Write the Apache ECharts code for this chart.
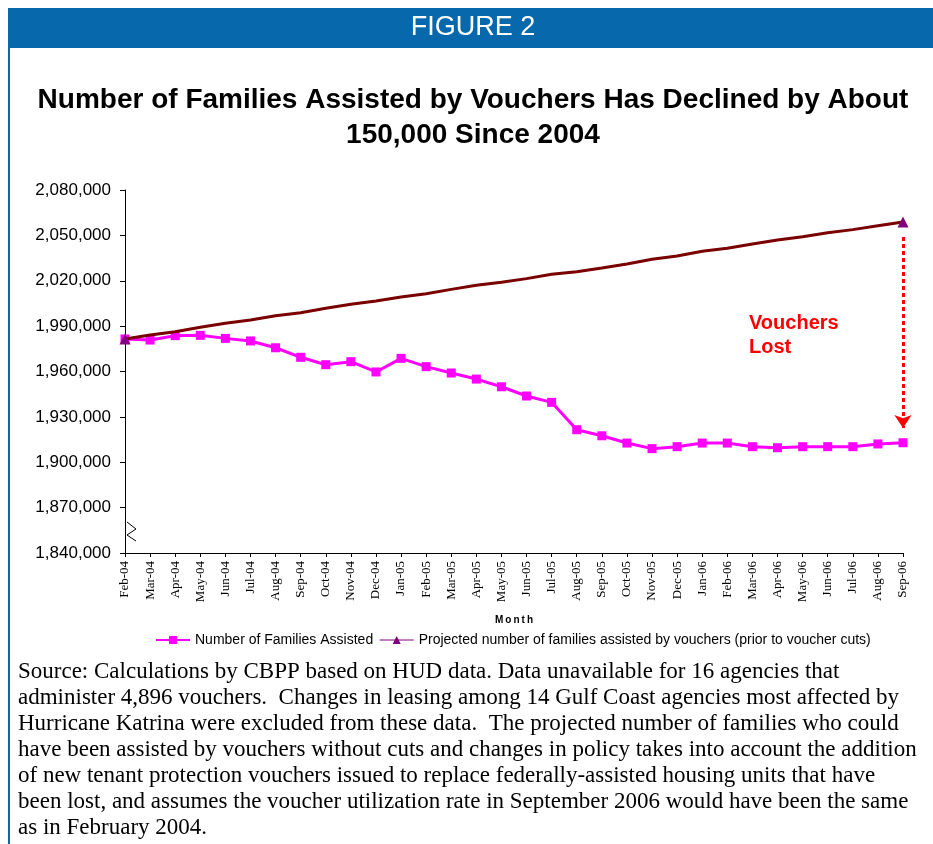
<!DOCTYPE html>
<html>
<head>
<meta charset="utf-8">
<script src="https://cdn.jsdelivr.net/npm/echarts@6/dist/echarts.min.js"></script>
<style>
html,body{margin:0;padding:0;background:#fff;}
#chart{width:933px;height:844px;}
</style>
</head>
<body>
<div id="chart"></div>
<script>
var months = ['Feb-04','Mar-04','Apr-04','May-04','Jun-04','Jul-04','Aug-04','Sep-04','Oct-04','Nov-04','Dec-04',
  'Jan-05','Feb-05','Mar-05','Apr-05','May-05','Jun-05','Jul-05','Aug-05','Sep-05','Oct-05','Nov-05','Dec-05',
  'Jan-06','Feb-06','Mar-06','Apr-06','May-06','Jun-06','Jul-06','Aug-06','Sep-06'];

var familiesAssisted = [1981500,1980800,1983700,1983900,1981900,1980200,1975700,1969400,1964500,1966500,1959700,
  1968700,1963200,1959000,1955000,1949900,1943800,1939600,1921500,1917500,1912700,1909000,1910300,
  1912700,1912700,1910300,1909600,1910300,1910300,1910300,1912100,1912900];

var projectedFamilies = [1981500,1984100,1986300,1989200,1991900,1994000,1996900,1998900,2001800,2004400,2006600,
  2009300,2011400,2014300,2017000,2019000,2021400,2024300,2026000,2028400,2031100,2034200,2036400,
  2039500,2041500,2044300,2046900,2049100,2051800,2053800,2056400,2058800];

var yTicks = {min:1840000, max:2080000, step:30000};
var arrowFrom = 2049000, arrowTo = 1922600;

var seriesNames = ['Number of Families Assisted','Projected number of families assisted by vouchers (prior to voucher cuts)'];

var footerLines = [
 'Source: Calculations by CBPP based on HUD data. Data unavailable for 16 agencies that',
 'administer 4,896 vouchers.  Changes in leasing among 14 Gulf Coast agencies most affected by',
 'Hurricane Katrina were excluded from these data.  The projected number of families who could',
 'have been assisted by vouchers without cuts and changes in policy takes into account the addition',
 'of new tenant protection vouchers issued to replace federally-assisted housing units that have',
 'been lost, and assumes the voucher utilization rate in September 2006 would have been the same',
 'as in February 2004.'
];

function fmt(v){ return String(v).replace(/\B(?=(\d{3})+(?!\d))/g, ','); }

var blue = '#0768AC';
var graphics = [
  {type:'rect', shape:{x:8,y:8,width:925,height:40}, style:{fill:blue}, silent:true},
  {type:'rect', shape:{x:8,y:48,width:2,height:796}, style:{fill:blue}, silent:true},
  {type:'text', x:473, y:28, style:{text:'FIGURE 2', fill:'#fff', font:'27px "Liberation Sans", Arial, sans-serif', textAlign:'center', textVerticalAlign:'middle'}},
  {type:'text', x:473, y:100, style:{text:'Number of Families Assisted by Vouchers Has Declined by About', fill:'#000', font:'bold 28px "Liberation Sans", Arial, sans-serif', textAlign:'center', textVerticalAlign:'middle'}},
  {type:'text', x:473, y:135, style:{text:'150,000 Since 2004', fill:'#000', font:'bold 28px "Liberation Sans", Arial, sans-serif', textAlign:'center', textVerticalAlign:'middle'}},
  {type:'text', x:749, y:323, style:{text:'Vouchers', fill:'#FF0000', font:'bold 20px "Liberation Sans", Arial, sans-serif', textAlign:'left', textVerticalAlign:'middle'}},
  {type:'text', x:749, y:347, style:{text:'Lost', fill:'#FF0000', font:'bold 20px "Liberation Sans", Arial, sans-serif', textAlign:'left', textVerticalAlign:'middle'}},
  {type:'polyline', shape:{points:[[127,522],[136,529],[127,535],[136,541]]}, style:{stroke:'#000', lineWidth:1, fill:null}, silent:true}
];
footerLines.forEach(function(t,i){
  graphics.push({type:'text', x:18, y:672 + i*26, style:{text:t, fill:'#000', font:'23px "Liberation Serif", "Times New Roman", serif', textAlign:'left', textVerticalAlign:'middle'}});
});

var chart = echarts.init(document.getElementById('chart'));
chart.setOption({
  animation:false,
  backgroundColor:'#fff',
  grid:{left:125, right:30, top:190, bottom:291, containLabel:false},
  legend:{
    left:150, top:628, itemWidth:34, itemHeight:10, itemGap:6,
    textStyle:{fontFamily:'"Liberation Sans", Arial, sans-serif', fontSize:14, color:'#000'},
    data:[
      {name:seriesNames[0]},
      {name:seriesNames[1], lineStyle:{width:1, color:'#800080'}}
    ]
  },
  xAxis:{
    type:'category', data:months, boundaryGap:false,
    name:'M\u2009o\u2009n\u2009t\u2009h', nameLocation:'middle', nameGap:62,
    nameTextStyle:{fontFamily:'"Liberation Sans", Arial, sans-serif', fontWeight:'bold', fontSize:10, color:'#000'},
    axisLine:{lineStyle:{color:'#000', width:1}},
    axisTick:{show:true, alignWithLabel:true, length:4, lineStyle:{color:'#000'}},
    axisLabel:{rotate:90, interval:0, margin:8, fontFamily:'"Liberation Serif", "Times New Roman", serif', fontSize:13, color:'#000'},
    splitLine:{show:false}
  },
  yAxis:{
    type:'value', min:yTicks.min, max:yTicks.max, interval:yTicks.step,
    axisLine:{show:true, lineStyle:{color:'#000', width:1}},
    axisTick:{show:true, length:5, lineStyle:{color:'#000'}},
    axisLabel:{formatter:fmt, margin:14, fontFamily:'"Liberation Sans", Arial, sans-serif', fontSize:17, color:'#000'},
    splitLine:{show:false}
  },
  series:[
    {
      name:seriesNames[0], type:'line', data:familiesAssisted,
      symbol:'rect', symbolSize:9, showAllSymbol:true,
      lineStyle:{color:'#FF00FF', width:3},
      itemStyle:{color:'#FF00FF'},
      z:2,
      markLine:{
        silent:true, symbol:['none','arrow'], symbolSize:[13,13],
        lineStyle:{color:'#FF0000', type:[4,3], width:3},
        label:{show:false},
        data:[[{coord:[months[months.length-1], arrowFrom]},{coord:[months[months.length-1], arrowTo]}]]
      }
    },
    {
      name:seriesNames[1], type:'line',
      data:projectedFamilies.map(function(v,i){
        return (i===0 || i===projectedFamilies.length-1) ? v : {value:v, symbol:'none'};
      }),
      symbol:'triangle', symbolSize:11, showAllSymbol:true,
      lineStyle:{color:'#7A0000', width:3},
      itemStyle:{color:'#800080'},
      z:3
    }
  ],
  graphic:graphics
});
</script>
</body>
</html>
